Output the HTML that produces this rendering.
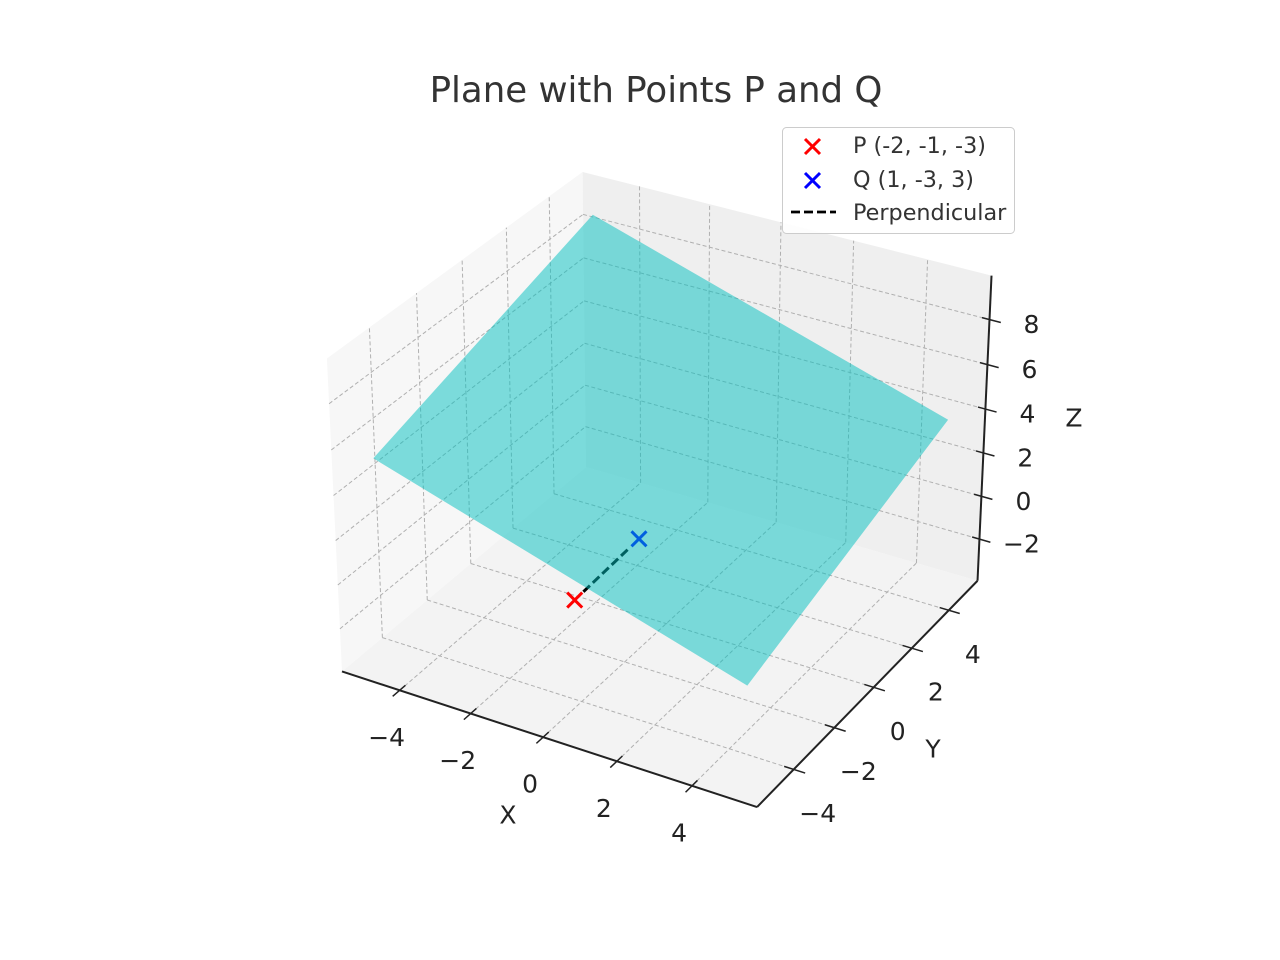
<!DOCTYPE html>
<html><head><meta charset="utf-8"><style>
html,body{margin:0;padding:0;background:#fff;}
svg{display:block;font-family:"DejaVu Sans","Liberation Sans",sans-serif;}
</style></head><body>
<svg id="chart" width="1280" height="960" viewBox="0 0 1280 960">
<rect width="1280" height="960" fill="#fff"/>
<text x="656" y="102" text-anchor="middle" font-size="35.6" fill="#333">Plane with Points P and Q</text>
<g id="scene"></g>
<g>
<rect x="782.5" y="127.5" width="232" height="106" rx="4" fill="#fff" fill-opacity="0.85" stroke="#cccccc"/>
<g><path d="M805 139 L820 154 M820 139 L805 154" stroke="#ff0000" stroke-width="3"/><text x="853" y="153" font-size="22.3" fill="#333">P (-2, -1, -3)</text></g>
<g><path d="M805 173 L820 188 M820 173 L805 188" stroke="#0000ff" stroke-width="3"/><text x="853" y="187" font-size="22.3" fill="#333">Q (1, -3, 3)</text></g>
<g><line x1="791" y1="212" x2="836" y2="212" stroke="#000" stroke-width="2.8" stroke-dasharray="9,4"/><text x="853" y="220" font-size="22.3" fill="#333">Perpendicular</text></g>
</g>
</svg>
<script>
// data
const xTicks = [-4, -2, 0, 2, 4];
const yTicks = [-4, -2, 0, 2, 4];
const zTicks = [-2, 0, 2, 4, 6, 8];
const pointP = [-2, -1, -3];
const pointQ = [1, -3, 3];
const planeXs = [-5, 5];
const planeYs = [-5, 5];
// plane z = c0 + cx*x + cy*y
const planeCoef = [4.5, -0.5, 1/3];
const xLim = [-5.65, 5.7];
const yLim = [-5.75, 5.6];
const zLim = [-3.97, 9.93];

const NS = "http://www.w3.org/2000/svg";
const scene = document.getElementById('scene');
const A = 1.1905, C = 0.8929;
const eye = [4.925, -6.905, 5.446];
const U = [0.866, 0.5, 0], V = [-0.25, 0.433, 0.866], W = [0.433, -0.75, 0.5];
const K = 3994, X0 = 665.4, Y0 = 474.4;
function proj(x, y, z) {
  const p = [(x - xLim[0]) / (xLim[1] - xLim[0]) * A, (y - yLim[0]) / (yLim[1] - yLim[0]) * A, (z - zLim[0]) / (zLim[1] - zLim[0]) * C];
  const d = [p[0] - eye[0], p[1] - eye[1], p[2] - eye[2]];
  const dot = (a) => a[0] * d[0] + a[1] * d[1] + a[2] * d[2];
  const zv = -dot(W);
  return [X0 + K * dot(U) / zv, Y0 - K * dot(V) / zv];
}
function el(tag, attrs, parent) {
  const e = document.createElementNS(NS, tag);
  for (const k in attrs) e.setAttribute(k, attrs[k]);
  (parent || scene).appendChild(e);
  return e;
}
function pts(list) { return list.map(p => proj(p[0], p[1], p[2]).map(v => v.toFixed(1)).join(',')).join(' '); }
const [x0, x1] = xLim, [y0, y1] = yLim, [z0, z1] = zLim;
// panes
let e;
e = el('polygon', {points: pts([[x0,y0,z0],[x1,y0,z0],[x1,y1,z0],[x0,y1,z0]]), fill: '#f3f3f3'});


e = el('polygon', {points: pts([[x0,y0,z0],[x0,y1,z0],[x0,y1,z1],[x0,y0,z1]]), fill: '#f7f7f7'});


e = el('polygon', {points: pts([[x0,y1,z0],[x1,y1,z0],[x1,y1,z1],[x0,y1,z1]]), fill: '#efefef'});


function line3(a, b, attrs) {
  const p = proj(...a), q = proj(...b);
  return el('line', Object.assign({x1: p[0], y1: p[1], x2: q[0], y2: q[1]}, attrs));
}
const gs = {stroke: '#b0b0b0', 'stroke-width': 1, 'stroke-dasharray': '4,2.5'};
xTicks.forEach(t => {
  e = line3([t,y0,z0],[t,y1,z0], gs);  
  e = line3([t,y1,z0],[t,y1,z1], gs);  
});
yTicks.forEach(t => {
  e = line3([x0,t,z0],[x1,t,z0], gs);  
  e = line3([x0,t,z0],[x0,t,z1], gs);  
});
zTicks.forEach(t => {
  e = line3([x0,y0,t],[x0,y1,t], gs);  
  e = line3([x0,y1,t],[x1,y1,t], gs);  
});
// axes
const as = {stroke: '#222', 'stroke-width': 2};
e = line3([x0,y0,z0],[x1,y0,z0], as);  
e = line3([x1,y0,z0],[x1,y1,z0], as);  
e = line3([x1,y1,z0],[x1,y1,z1], as);  
const ts = {stroke: '#222', 'stroke-width': 1.5};
function txt(x, y, s, size, name) {
  const t = el('text', {x: x, y: y, 'font-size': size, fill: '#222', 'text-anchor': 'middle', 'dominant-baseline': 'central'});
  t.textContent = s;
  
  
  return t;
}
const fmt = v => v < 0 ? '\u2212' + (-v) : String(v);
xTicks.forEach(t => {
  e = line3([t,y0+0.25,z0],[t,y0-0.3,z0], ts);  
  const p = proj(t, y0, z0);
  txt(p[0] - 13, p[1] + 47, fmt(t), 25, 'x-tick-label');
});
yTicks.forEach(t => {
  e = line3([x1-0.25,t,z0],[x1+0.3,t,z0], ts);  
  const p = proj(x1, t, z0);
  txt(p[0] + 24, p[1] + 44, fmt(t), 25, 'y-tick-label');
});
zTicks.forEach(t => {
  e = line3([x1-0.2,y1,t],[x1+0.3,y1,t], ts);  
  const p = proj(x1, y1, t);
  txt(p[0] + 42, p[1] + 5, fmt(t), 25, 'z-tick-label');
});
txt(508, 815, 'X', 25, 'x-axis-title');
txt(933, 749, 'Y', 25, 'y-axis-title');
txt(1074, 418, 'Z', 25, 'z-axis-title');
// markers
function marker(p, color, name) {
  const c = proj(...p);
  const s = 7.5;
  const m = el('path', {d: `M${c[0]-s} ${c[1]-s} L${c[0]+s} ${c[1]+s} M${c[0]+s} ${c[1]-s} L${c[0]-s} ${c[1]+s}`, stroke: color, 'stroke-width': 3});
  
  
}
e = line3(pointP, pointQ, {stroke: '#000', 'stroke-width': 3, 'stroke-dasharray': '0,12,9,4,9,4,9,4,9,4,9,4'});


marker(pointQ, '#0000ff', 'point-q');
// plane
const pz = (x, y) => planeCoef[0] + planeCoef[1] * x + planeCoef[2] * y;
const corners = [[planeXs[0],planeYs[0]],[planeXs[1],planeYs[0]],[planeXs[1],planeYs[1]],[planeXs[0],planeYs[1]]].map(c => [c[0], c[1], pz(c[0], c[1])]);
e = el('polygon', {points: pts(corners), fill: '#00bfbf', 'fill-opacity': 0.5});


marker(pointP, '#ff0000', 'point-p');
</script>
</body></html>
